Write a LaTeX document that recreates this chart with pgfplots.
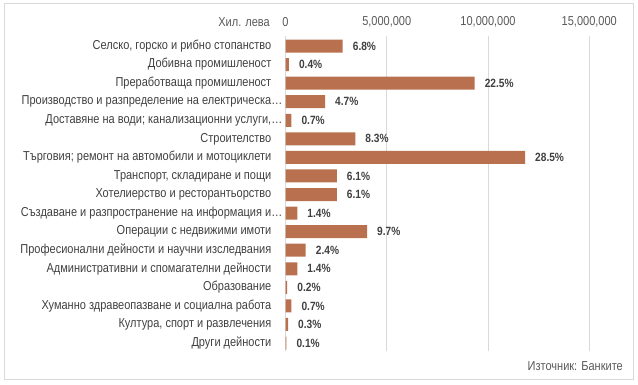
\documentclass[border=0pt]{standalone}
\usepackage{fontspec}
\setmainfont{Liberation Sans}[FakeStretch=0.85]
\usepackage{pgfplots}
\usepackage{pgfplotstable}
\pgfplotsset{compat=1.18}
\definecolor{barc}{RGB}{185,112,78}
\definecolor{txtd}{RGB}{64,64,64}
\definecolor{txtg}{RGB}{89,89,89}
\definecolor{gridc}{RGB}{217,217,217}
\pgfplotstableread{
idx val pct
0 2822000 6.8
1 166000 0.4
2 9337500 22.5
3 1950500 4.7
4 290500 0.7
5 3444500 8.3
6 11827500 28.5
7 2531500 6.1
8 2531500 6.1
9 581000 1.4
10 4025500 9.7
11 996000 2.4
12 581000 1.4
13 83000 0.2
14 290500 0.7
15 124500 0.3
16 41500 0.1
}\datatable
\begin{document}
\begin{tikzpicture}[x=1bp,y=1bp]
\begin{axis}[
  name=ax, at={(285.5bp,33bp)}, anchor=south west,
  scale only axis, width=324bp, height=315bp,
  xmin=0, xmax=16000000, ymin=-0.54, ymax=16.43, y dir=reverse,
  xbar, bar width=13bp,
  axis line style={draw=none}, major tick length=0pt,
  xtick={0,5000000,10000000,15000000},
  xticklabels={0,{5,000,000},{10,000,000},{15,000,000}},
  scaled x ticks=false,
  xticklabel pos=upper,
  xticklabel style={font=\fontsize{13}{15}\selectfont, text=txtg, anchor=center, inner sep=0pt, yshift=14bp},
  xmajorgrids, grid style={gridc, line width=0.7bp},
  ytick={0,...,16},
  yticklabels={{Селско, горско и рибно стопанство},{Добивна промишленост},{Преработваща промишленост},{Производство и разпределение на електрическа\rlap{…}},{Доставяне на води; канализационни услуги,\rlap{…}},{Строителство},{Търговия; ремонт на автомобили и мотоциклети},{Транспорт, складиране и пощи},{Хотелиерство и ресторантьорство},{Създаване и разпространение на информация и\rlap{…}},{Операции с недвижими имоти},{Професионални дейности и научни изследвания},{Административни и спомагателни дейности},{Образование},{Хуманно здравеопазване и социална работа},{Култура, спорт и развлечения},{Други  дейности}},
  yticklabel style={font=\fontsize{13}{15}\selectfont, text=txtd, anchor=east, inner sep=0pt, xshift=-14bp},
  point meta=explicit symbolic,
  nodes near coords={\pgfplotspointmeta\%},
  nodes near coords style={font=\bfseries\fontsize{12}{14}\selectfont, text=txtd, anchor=west, inner sep=0pt, xshift=10bp},
  clip=false,
]
\addplot[fill=barc, draw=none] table[x=val, y=idx, meta=pct] {\datatable};
\node[anchor=east, font=\fontsize{13}{15}\selectfont, text=txtg, inner sep=0pt] at (rel axis cs:0,1) [xshift=-15.5bp, yshift=14bp] {Хил. лева};
\end{axis}
\draw[gridc, line width=0.8bp] (4,5) rectangle (633,381);
\node[anchor=east, font=\fontsize{13}{15}\selectfont, text=txtg, inner sep=0pt] at (623,18) {Източник: Банките};
\pgfresetboundingbox
\useasboundingbox (0,0) rectangle (638,384);
\end{tikzpicture}
\end{document}
